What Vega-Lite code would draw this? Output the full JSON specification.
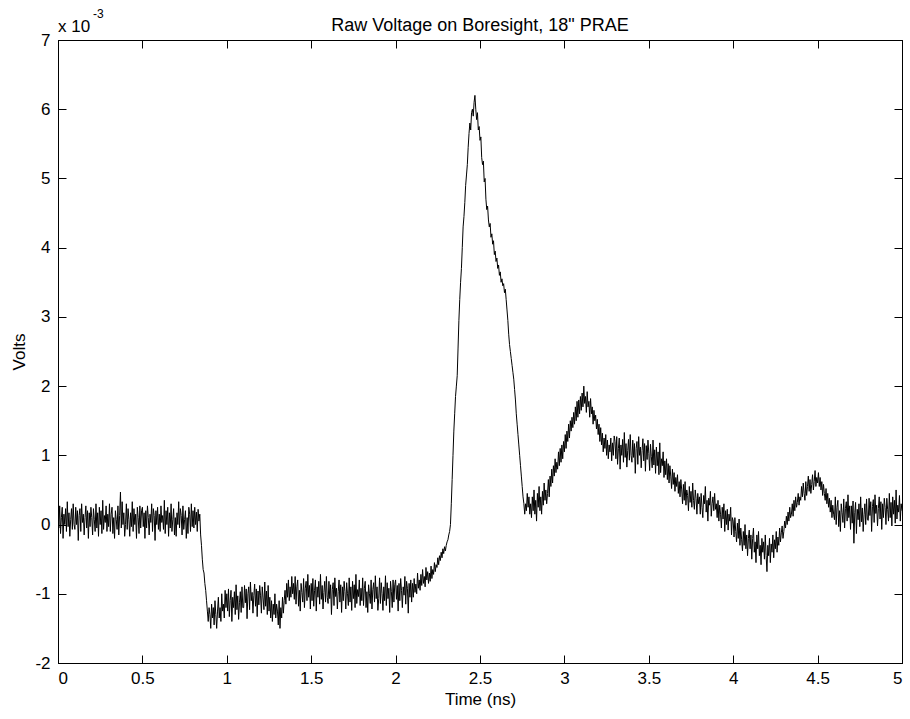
{
  "$schema": "https://vega.github.io/schema/vega-lite/v6.json",
  "width": 844,
  "height": 623,
  "autosize": {"type": "none"},
  "padding": {"left": 58, "top": 40, "right": 8, "bottom": 56},
  "background": "white",
  "title": {"text": "Raw Voltage on Boresight, 18\" PRAE", "fontSize": 18, "fontWeight": "normal", "font": "Liberation Sans", "color": "black", "offset": 0, "baseline": "alphabetic", "dy": 41, "frame": "group", "anchor": "middle"},
  "config": {
    "view": {"stroke": "black", "strokeWidth": 1},
    "axis": {"grid": false, "domainColor": "black", "tickColor": "black", "labelColor": "black", "titleColor": "black", "labelFont": "Liberation Sans", "titleFont": "Liberation Sans", "labelFontSize": 17, "titleFontSize": 17, "titleFontWeight": "normal", "tickSize": -8, "domainWidth": 1, "tickWidth": 1}
  },
  "layer": [
    {
      "data": {"values": [
{"t":0.000,"v":0.20},{"t":0.005,"v":-0.05},{"t":0.010,"v":0.27},{"t":0.015,"v":-0.13},{"t":0.020,"v":0.10},{"t":0.025,"v":0.25},{"t":0.030,"v":-0.20},{"t":0.035,"v":0.15},{"t":0.040,"v":0.00},{"t":0.045,"v":0.23},{"t":0.050,"v":-0.10},{"t":0.055,"v":0.33},{"t":0.060,"v":-0.03},{"t":0.065,"v":0.17},{"t":0.070,"v":-0.17},{"t":0.075,"v":0.07},{"t":0.080,"v":0.23},{"t":0.085,"v":-0.07},{"t":0.090,"v":0.30},{"t":0.095,"v":0.00},
{"t":0.100,"v":-0.07},{"t":0.105,"v":0.25},{"t":0.110,"v":0.00},{"t":0.115,"v":0.20},{"t":0.120,"v":-0.23},{"t":0.125,"v":0.13},{"t":0.130,"v":0.23},{"t":0.135,"v":-0.10},{"t":0.140,"v":0.30},{"t":0.145,"v":0.03},{"t":0.150,"v":0.15},{"t":0.155,"v":-0.15},{"t":0.160,"v":0.10},{"t":0.165,"v":0.27},{"t":0.170,"v":-0.05},{"t":0.175,"v":0.20},{"t":0.180,"v":-0.20},{"t":0.185,"v":0.17},{"t":0.190,"v":-0.03},{"t":0.195,"v":0.25},
{"t":0.200,"v":0.10},{"t":0.205,"v":-0.15},{"t":0.210,"v":0.23},{"t":0.215,"v":0.07},{"t":0.220,"v":-0.10},{"t":0.225,"v":0.30},{"t":0.230,"v":-0.05},{"t":0.235,"v":0.17},{"t":0.240,"v":-0.17},{"t":0.245,"v":0.25},{"t":0.250,"v":0.00},{"t":0.255,"v":0.20},{"t":0.260,"v":-0.13},{"t":0.265,"v":0.35},{"t":0.270,"v":-0.07},{"t":0.275,"v":0.13},{"t":0.280,"v":0.03},{"t":0.285,"v":0.27},{"t":0.290,"v":-0.10},{"t":0.295,"v":0.15},
{"t":0.300,"v":-0.03},{"t":0.305,"v":0.30},{"t":0.310,"v":-0.10},{"t":0.315,"v":0.15},{"t":0.320,"v":0.25},{"t":0.325,"v":-0.13},{"t":0.330,"v":0.10},{"t":0.335,"v":-0.20},{"t":0.340,"v":0.20},{"t":0.345,"v":0.07},{"t":0.350,"v":-0.07},{"t":0.355,"v":0.27},{"t":0.360,"v":-0.15},{"t":0.365,"v":0.13},{"t":0.370,"v":0.47},{"t":0.375,"v":-0.05},{"t":0.380,"v":0.33},{"t":0.385,"v":0.00},{"t":0.390,"v":0.17},{"t":0.395,"v":-0.17},
{"t":0.400,"v":0.00},{"t":0.405,"v":0.30},{"t":0.410,"v":-0.07},{"t":0.415,"v":0.23},{"t":0.420,"v":0.07},{"t":0.425,"v":-0.17},{"t":0.430,"v":0.17},{"t":0.435,"v":-0.03},{"t":0.440,"v":0.33},{"t":0.445,"v":-0.10},{"t":0.450,"v":0.23},{"t":0.455,"v":0.00},{"t":0.460,"v":0.15},{"t":0.465,"v":-0.20},{"t":0.470,"v":0.25},{"t":0.475,"v":0.10},{"t":0.480,"v":-0.13},{"t":0.485,"v":0.27},{"t":0.490,"v":-0.05},{"t":0.495,"v":0.20},
{"t":0.500,"v":0.25},{"t":0.505,"v":-0.03},{"t":0.510,"v":0.17},{"t":0.515,"v":-0.20},{"t":0.520,"v":0.20},{"t":0.525,"v":-0.05},{"t":0.530,"v":0.27},{"t":0.535,"v":0.10},{"t":0.540,"v":-0.15},{"t":0.545,"v":0.15},{"t":0.550,"v":0.03},{"t":0.555,"v":0.30},{"t":0.560,"v":-0.10},{"t":0.565,"v":0.23},{"t":0.570,"v":0.13},{"t":0.575,"v":-0.23},{"t":0.580,"v":0.20},{"t":0.585,"v":0.00},{"t":0.590,"v":0.25},{"t":0.595,"v":-0.07},
{"t":0.600,"v":0.15},{"t":0.605,"v":-0.10},{"t":0.610,"v":0.27},{"t":0.615,"v":0.03},{"t":0.620,"v":0.13},{"t":0.625,"v":-0.07},{"t":0.630,"v":0.35},{"t":0.635,"v":-0.13},{"t":0.640,"v":0.20},{"t":0.645,"v":0.00},{"t":0.650,"v":0.25},{"t":0.655,"v":-0.17},{"t":0.660,"v":0.17},{"t":0.665,"v":-0.05},{"t":0.670,"v":0.30},{"t":0.675,"v":-0.10},{"t":0.680,"v":0.07},{"t":0.685,"v":0.23},{"t":0.690,"v":-0.15},{"t":0.695,"v":0.10},
{"t":0.700,"v":-0.17},{"t":0.705,"v":0.17},{"t":0.710,"v":0.00},{"t":0.715,"v":0.33},{"t":0.720,"v":-0.05},{"t":0.725,"v":0.23},{"t":0.730,"v":0.13},{"t":0.735,"v":-0.15},{"t":0.740,"v":0.27},{"t":0.745,"v":-0.07},{"t":0.750,"v":0.07},{"t":0.755,"v":0.20},{"t":0.760,"v":-0.20},{"t":0.765,"v":0.10},{"t":0.770,"v":-0.13},{"t":0.775,"v":0.25},{"t":0.780,"v":0.15},{"t":0.785,"v":-0.10},{"t":0.790,"v":0.30},{"t":0.795,"v":-0.03},
{"t":0.800,"v":0.20},{"t":0.805,"v":-0.05},{"t":0.810,"v":0.25},{"t":0.815,"v":0.00},{"t":0.820,"v":0.18},{"t":0.825,"v":-0.10},{"t":0.830,"v":0.22},{"t":0.835,"v":0.05},{"t":0.840,"v":0.15},{"t":0.845,"v":-0.15},{"t":0.850,"v":-0.30},{"t":0.855,"v":-0.50},{"t":0.860,"v":-0.65},{"t":0.865,"v":-0.70},{"t":0.870,"v":-0.85},{"t":0.875,"v":-0.95},{"t":0.880,"v":-1.10},{"t":0.885,"v":-1.25},{"t":0.890,"v":-1.40},{"t":0.895,"v":-1.20},
{"t":0.900,"v":-1.30},{"t":0.905,"v":-1.50},{"t":0.910,"v":-1.15},{"t":0.915,"v":-1.35},{"t":0.920,"v":-1.20},{"t":0.925,"v":-1.45},{"t":0.930,"v":-1.10},{"t":0.935,"v":-1.30},{"t":0.940,"v":-1.50},{"t":0.945,"v":-1.25},{"t":0.950,"v":-1.05},{"t":0.955,"v":-1.35},{"t":0.960,"v":-1.20},{"t":0.965,"v":-1.40},{"t":0.970,"v":-1.00},{"t":0.975,"v":-1.25},{"t":0.980,"v":-1.15},{"t":0.985,"v":-1.35},{"t":0.990,"v":-0.95},{"t":0.995,"v":-1.20},
{"t":1.000,"v":-1.00},{"t":1.005,"v":-1.25},{"t":1.010,"v":-0.93},{"t":1.015,"v":-1.33},{"t":1.020,"v":-1.10},{"t":1.025,"v":-0.95},{"t":1.030,"v":-1.40},{"t":1.035,"v":-1.05},{"t":1.040,"v":-1.20},{"t":1.045,"v":-0.97},{"t":1.050,"v":-1.30},{"t":1.055,"v":-0.87},{"t":1.060,"v":-1.23},{"t":1.065,"v":-1.03},{"t":1.070,"v":-1.37},{"t":1.075,"v":-1.13},{"t":1.080,"v":-0.97},{"t":1.085,"v":-1.27},{"t":1.090,"v":-0.90},{"t":1.095,"v":-1.20},
{"t":1.100,"v":-1.20},{"t":1.105,"v":-0.88},{"t":1.110,"v":-1.13},{"t":1.115,"v":-0.93},{"t":1.120,"v":-1.36},{"t":1.125,"v":-1.00},{"t":1.130,"v":-0.90},{"t":1.135,"v":-1.23},{"t":1.140,"v":-0.83},{"t":1.145,"v":-1.10},{"t":1.150,"v":-0.98},{"t":1.155,"v":-1.28},{"t":1.160,"v":-1.03},{"t":1.165,"v":-0.86},{"t":1.170,"v":-1.18},{"t":1.175,"v":-0.93},{"t":1.180,"v":-1.33},{"t":1.185,"v":-0.96},{"t":1.190,"v":-1.16},{"t":1.195,"v":-0.88},
{"t":1.200,"v":-1.03},{"t":1.205,"v":-1.28},{"t":1.210,"v":-0.90},{"t":1.215,"v":-1.06},{"t":1.220,"v":-1.23},{"t":1.225,"v":-0.83},{"t":1.230,"v":-1.18},{"t":1.235,"v":-0.96},{"t":1.240,"v":-1.30},{"t":1.245,"v":-0.88},{"t":1.250,"v":-1.25},{"t":1.255,"v":-1.05},{"t":1.260,"v":-1.35},{"t":1.265,"v":-1.10},{"t":1.270,"v":-1.40},{"t":1.275,"v":-1.15},{"t":1.280,"v":-1.30},{"t":1.285,"v":-1.00},{"t":1.290,"v":-1.35},{"t":1.295,"v":-1.15},
{"t":1.300,"v":-1.25},{"t":1.305,"v":-1.45},{"t":1.310,"v":-1.10},{"t":1.315,"v":-1.50},{"t":1.320,"v":-1.20},{"t":1.325,"v":-1.35},{"t":1.330,"v":-1.05},{"t":1.335,"v":-1.28},{"t":1.340,"v":-1.10},{"t":1.345,"v":-0.95},{"t":1.350,"v":-1.15},{"t":1.355,"v":-0.85},{"t":1.360,"v":-1.05},{"t":1.365,"v":-0.80},{"t":1.370,"v":-1.10},{"t":1.375,"v":-0.90},{"t":1.380,"v":-1.05},{"t":1.385,"v":-0.75},{"t":1.390,"v":-1.00},{"t":1.395,"v":-0.85},
{"t":1.400,"v":-1.08},{"t":1.405,"v":-0.75},{"t":1.410,"v":-1.15},{"t":1.415,"v":-0.90},{"t":1.420,"v":-0.80},{"t":1.425,"v":-1.18},{"t":1.430,"v":-0.95},{"t":1.435,"v":-1.25},{"t":1.440,"v":-0.85},{"t":1.445,"v":-0.98},{"t":1.450,"v":-1.12},{"t":1.455,"v":-0.78},{"t":1.460,"v":-1.20},{"t":1.465,"v":-0.92},{"t":1.470,"v":-0.82},{"t":1.475,"v":-1.10},{"t":1.480,"v":-0.72},{"t":1.485,"v":-1.05},{"t":1.490,"v":-0.88},{"t":1.495,"v":-1.22},
{"t":1.500,"v":-0.85},{"t":1.505,"v":-1.10},{"t":1.510,"v":-0.78},{"t":1.515,"v":-1.18},{"t":1.520,"v":-0.95},{"t":1.525,"v":-0.80},{"t":1.530,"v":-1.25},{"t":1.535,"v":-0.90},{"t":1.540,"v":-1.05},{"t":1.545,"v":-0.82},{"t":1.550,"v":-1.15},{"t":1.555,"v":-0.72},{"t":1.560,"v":-1.08},{"t":1.565,"v":-0.88},{"t":1.570,"v":-1.22},{"t":1.575,"v":-0.98},{"t":1.580,"v":-0.82},{"t":1.585,"v":-1.12},{"t":1.590,"v":-0.75},{"t":1.595,"v":-1.05},
{"t":1.600,"v":-1.14},{"t":1.605,"v":-0.82},{"t":1.610,"v":-1.07},{"t":1.615,"v":-0.87},{"t":1.620,"v":-1.30},{"t":1.625,"v":-0.94},{"t":1.630,"v":-0.84},{"t":1.635,"v":-1.17},{"t":1.640,"v":-0.77},{"t":1.645,"v":-1.04},{"t":1.650,"v":-0.92},{"t":1.655,"v":-1.22},{"t":1.660,"v":-0.97},{"t":1.665,"v":-0.80},{"t":1.670,"v":-1.12},{"t":1.675,"v":-0.87},{"t":1.680,"v":-1.27},{"t":1.685,"v":-0.90},{"t":1.690,"v":-1.10},{"t":1.695,"v":-0.82},
{"t":1.700,"v":-0.97},{"t":1.705,"v":-1.22},{"t":1.710,"v":-0.84},{"t":1.715,"v":-1.00},{"t":1.720,"v":-1.17},{"t":1.725,"v":-0.77},{"t":1.730,"v":-1.12},{"t":1.735,"v":-0.90},{"t":1.740,"v":-1.24},{"t":1.745,"v":-0.82},{"t":1.750,"v":-1.07},{"t":1.755,"v":-0.87},{"t":1.760,"v":-1.20},{"t":1.765,"v":-0.72},{"t":1.770,"v":-1.14},{"t":1.775,"v":-0.94},{"t":1.780,"v":-1.04},{"t":1.785,"v":-0.80},{"t":1.790,"v":-1.17},{"t":1.795,"v":-0.92},
{"t":1.800,"v":-1.10},{"t":1.805,"v":-0.77},{"t":1.810,"v":-1.17},{"t":1.815,"v":-0.92},{"t":1.820,"v":-0.82},{"t":1.825,"v":-1.20},{"t":1.830,"v":-0.97},{"t":1.835,"v":-1.27},{"t":1.840,"v":-0.87},{"t":1.845,"v":-1.00},{"t":1.850,"v":-1.14},{"t":1.855,"v":-0.80},{"t":1.860,"v":-1.22},{"t":1.865,"v":-0.94},{"t":1.870,"v":-0.84},{"t":1.875,"v":-1.12},{"t":1.880,"v":-0.74},{"t":1.885,"v":-1.07},{"t":1.890,"v":-0.90},{"t":1.895,"v":-1.24},
{"t":1.900,"v":-1.07},{"t":1.905,"v":-0.77},{"t":1.910,"v":-1.14},{"t":1.915,"v":-0.84},{"t":1.920,"v":-1.00},{"t":1.925,"v":-1.24},{"t":1.930,"v":-0.90},{"t":1.935,"v":-1.10},{"t":1.940,"v":-0.74},{"t":1.945,"v":-1.17},{"t":1.950,"v":-0.84},{"t":1.955,"v":-1.07},{"t":1.960,"v":-0.92},{"t":1.965,"v":-1.27},{"t":1.970,"v":-0.82},{"t":1.975,"v":-0.97},{"t":1.980,"v":-1.20},{"t":1.985,"v":-0.80},{"t":1.990,"v":-1.12},{"t":1.995,"v":-0.87},
{"t":2.000,"v":-0.80},{"t":2.005,"v":-1.08},{"t":2.010,"v":-0.88},{"t":2.015,"v":-1.25},{"t":2.020,"v":-0.85},{"t":2.025,"v":-1.10},{"t":2.030,"v":-0.78},{"t":2.035,"v":-0.95},{"t":2.040,"v":-1.20},{"t":2.045,"v":-0.90},{"t":2.050,"v":-1.02},{"t":2.055,"v":-0.75},{"t":2.060,"v":-1.15},{"t":2.065,"v":-0.82},{"t":2.070,"v":-0.92},{"t":2.075,"v":-1.28},{"t":2.080,"v":-0.85},{"t":2.085,"v":-1.05},{"t":2.090,"v":-0.80},{"t":2.095,"v":-1.12},
{"t":2.100,"v":-0.85},{"t":2.105,"v":-1.05},{"t":2.110,"v":-0.78},{"t":2.115,"v":-0.98},{"t":2.120,"v":-0.86},{"t":2.125,"v":-1.00},{"t":2.130,"v":-0.70},{"t":2.135,"v":-0.92},{"t":2.140,"v":-0.80},{"t":2.145,"v":-0.95},{"t":2.150,"v":-0.72},{"t":2.155,"v":-0.88},{"t":2.160,"v":-0.65},{"t":2.165,"v":-0.85},{"t":2.170,"v":-0.75},{"t":2.175,"v":-0.90},{"t":2.180,"v":-0.62},{"t":2.185,"v":-0.80},{"t":2.190,"v":-0.68},{"t":2.195,"v":-0.85},
{"t":2.200,"v":-0.70},{"t":2.205,"v":-0.82},{"t":2.210,"v":-0.60},{"t":2.215,"v":-0.78},{"t":2.220,"v":-0.65},{"t":2.225,"v":-0.72},{"t":2.230,"v":-0.55},{"t":2.235,"v":-0.68},{"t":2.240,"v":-0.58},{"t":2.245,"v":-0.62},{"t":2.250,"v":-0.48},{"t":2.255,"v":-0.58},{"t":2.260,"v":-0.45},{"t":2.265,"v":-0.52},{"t":2.270,"v":-0.40},{"t":2.275,"v":-0.48},{"t":2.280,"v":-0.35},{"t":2.285,"v":-0.42},{"t":2.290,"v":-0.32},{"t":2.295,"v":-0.38},
{"t":2.300,"v":-0.30},{"t":2.305,"v":-0.25},{"t":2.310,"v":-0.22},{"t":2.315,"v":-0.15},{"t":2.320,"v":-0.10},{"t":2.325,"v":0.00},{"t":2.330,"v":0.30},{"t":2.335,"v":0.65},{"t":2.340,"v":1.00},{"t":2.345,"v":1.35},{"t":2.350,"v":1.60},{"t":2.355,"v":1.85},{"t":2.360,"v":2.00},{"t":2.365,"v":2.15},{"t":2.370,"v":2.55},{"t":2.375,"v":2.95},{"t":2.380,"v":3.25},{"t":2.385,"v":3.50},{"t":2.390,"v":3.70},{"t":2.395,"v":4.00},
{"t":2.400,"v":4.30},{"t":2.405,"v":4.45},{"t":2.410,"v":4.65},{"t":2.415,"v":4.90},{"t":2.420,"v":5.05},{"t":2.425,"v":5.20},{"t":2.430,"v":5.45},{"t":2.435,"v":5.65},{"t":2.440,"v":5.80},{"t":2.445,"v":5.70},{"t":2.450,"v":5.95},{"t":2.455,"v":6.00},{"t":2.460,"v":5.90},{"t":2.465,"v":6.10},{"t":2.470,"v":6.20},{"t":2.475,"v":6.00},{"t":2.480,"v":5.85},{"t":2.485,"v":5.95},{"t":2.490,"v":5.70},{"t":2.495,"v":5.75},
{"t":2.500,"v":5.55},{"t":2.505,"v":5.60},{"t":2.510,"v":5.30},{"t":2.515,"v":5.20},{"t":2.520,"v":5.25},{"t":2.525,"v":4.95},{"t":2.530,"v":5.00},{"t":2.535,"v":4.70},{"t":2.540,"v":4.55},{"t":2.545,"v":4.60},{"t":2.550,"v":4.40},{"t":2.555,"v":4.30},{"t":2.560,"v":4.35},{"t":2.565,"v":4.15},{"t":2.570,"v":4.20},{"t":2.575,"v":4.05},{"t":2.580,"v":4.10},{"t":2.585,"v":3.90},{"t":2.590,"v":3.95},{"t":2.595,"v":3.80},
{"t":2.600,"v":3.85},{"t":2.605,"v":3.70},{"t":2.610,"v":3.75},{"t":2.615,"v":3.60},{"t":2.620,"v":3.65},{"t":2.625,"v":3.50},{"t":2.630,"v":3.55},{"t":2.635,"v":3.45},{"t":2.640,"v":3.48},{"t":2.645,"v":3.35},{"t":2.650,"v":3.40},{"t":2.655,"v":3.25},{"t":2.660,"v":3.10},{"t":2.665,"v":2.95},{"t":2.670,"v":2.75},{"t":2.675,"v":2.60},{"t":2.680,"v":2.50},{"t":2.685,"v":2.40},{"t":2.690,"v":2.30},{"t":2.695,"v":2.20},
{"t":2.700,"v":2.10},{"t":2.705,"v":1.95},{"t":2.710,"v":1.80},{"t":2.715,"v":1.60},{"t":2.720,"v":1.45},{"t":2.725,"v":1.30},{"t":2.730,"v":1.15},{"t":2.735,"v":1.00},{"t":2.740,"v":0.85},{"t":2.745,"v":0.70},{"t":2.750,"v":0.55},{"t":2.755,"v":0.40},{"t":2.760,"v":0.30},{"t":2.765,"v":0.15},{"t":2.770,"v":0.30},{"t":2.775,"v":0.20},{"t":2.780,"v":0.45},{"t":2.785,"v":0.25},{"t":2.790,"v":0.40},{"t":2.795,"v":0.15},
{"t":2.800,"v":0.30},{"t":2.805,"v":0.10},{"t":2.810,"v":0.40},{"t":2.815,"v":0.20},{"t":2.820,"v":0.50},{"t":2.825,"v":0.15},{"t":2.830,"v":0.35},{"t":2.835,"v":0.05},{"t":2.840,"v":0.45},{"t":2.845,"v":0.25},{"t":2.850,"v":0.55},{"t":2.855,"v":0.20},{"t":2.860,"v":0.40},{"t":2.865,"v":0.15},{"t":2.870,"v":0.48},{"t":2.875,"v":0.28},{"t":2.880,"v":0.60},{"t":2.885,"v":0.35},{"t":2.890,"v":0.50},{"t":2.895,"v":0.30},
{"t":2.900,"v":0.45},{"t":2.905,"v":0.65},{"t":2.910,"v":0.40},{"t":2.915,"v":0.70},{"t":2.920,"v":0.55},{"t":2.925,"v":0.80},{"t":2.930,"v":0.60},{"t":2.935,"v":0.85},{"t":2.940,"v":0.70},{"t":2.945,"v":0.95},{"t":2.950,"v":0.75},{"t":2.955,"v":0.90},{"t":2.960,"v":0.80},{"t":2.965,"v":1.05},{"t":2.970,"v":0.85},{"t":2.975,"v":1.10},{"t":2.980,"v":0.90},{"t":2.985,"v":1.15},{"t":2.990,"v":0.95},{"t":2.995,"v":1.20},
{"t":3.000,"v":1.05},{"t":3.005,"v":1.30},{"t":3.010,"v":1.10},{"t":3.015,"v":1.35},{"t":3.020,"v":1.20},{"t":3.025,"v":1.45},{"t":3.030,"v":1.25},{"t":3.035,"v":1.50},{"t":3.040,"v":1.35},{"t":3.045,"v":1.55},{"t":3.050,"v":1.40},{"t":3.055,"v":1.62},{"t":3.060,"v":1.45},{"t":3.065,"v":1.70},{"t":3.070,"v":1.50},{"t":3.075,"v":1.78},{"t":3.080,"v":1.55},{"t":3.085,"v":1.80},{"t":3.090,"v":1.60},{"t":3.095,"v":1.85},
{"t":3.100,"v":1.65},{"t":3.105,"v":1.90},{"t":3.110,"v":1.70},{"t":3.115,"v":2.00},{"t":3.120,"v":1.75},{"t":3.125,"v":1.85},{"t":3.130,"v":1.62},{"t":3.135,"v":1.92},{"t":3.140,"v":1.70},{"t":3.145,"v":1.78},{"t":3.150,"v":1.55},{"t":3.155,"v":1.82},{"t":3.160,"v":1.60},{"t":3.165,"v":1.70},{"t":3.170,"v":1.45},{"t":3.175,"v":1.65},{"t":3.180,"v":1.50},{"t":3.185,"v":1.58},{"t":3.190,"v":1.38},{"t":3.195,"v":1.52},
{"t":3.200,"v":1.30},{"t":3.205,"v":1.45},{"t":3.210,"v":1.20},{"t":3.215,"v":1.40},{"t":3.220,"v":1.15},{"t":3.225,"v":1.32},{"t":3.230,"v":1.05},{"t":3.235,"v":1.25},{"t":3.240,"v":1.10},{"t":3.245,"v":1.30},{"t":3.250,"v":1.00},{"t":3.255,"v":1.22},{"t":3.260,"v":0.95},{"t":3.265,"v":1.15},{"t":3.270,"v":1.05},{"t":3.275,"v":1.25},{"t":3.280,"v":0.92},{"t":3.285,"v":1.18},{"t":3.290,"v":1.00},{"t":3.295,"v":1.28},
{"t":3.300,"v":1.20},{"t":3.305,"v":0.95},{"t":3.310,"v":1.27},{"t":3.315,"v":0.87},{"t":3.320,"v":1.10},{"t":3.325,"v":1.25},{"t":3.330,"v":0.80},{"t":3.335,"v":1.15},{"t":3.340,"v":1.00},{"t":3.345,"v":1.23},{"t":3.350,"v":0.90},{"t":3.355,"v":1.33},{"t":3.360,"v":0.97},{"t":3.365,"v":1.17},{"t":3.370,"v":0.83},{"t":3.375,"v":1.07},{"t":3.380,"v":1.23},{"t":3.385,"v":0.93},{"t":3.390,"v":1.30},{"t":3.395,"v":1.00},
{"t":3.400,"v":0.90},{"t":3.405,"v":1.22},{"t":3.410,"v":0.97},{"t":3.415,"v":1.17},{"t":3.420,"v":0.74},{"t":3.425,"v":1.10},{"t":3.430,"v":1.20},{"t":3.435,"v":0.87},{"t":3.440,"v":1.27},{"t":3.445,"v":1.00},{"t":3.450,"v":1.12},{"t":3.455,"v":0.82},{"t":3.460,"v":1.07},{"t":3.465,"v":1.24},{"t":3.470,"v":0.92},{"t":3.475,"v":1.17},{"t":3.480,"v":0.77},{"t":3.485,"v":1.14},{"t":3.490,"v":0.94},{"t":3.495,"v":1.22},
{"t":3.500,"v":1.03},{"t":3.505,"v":0.78},{"t":3.510,"v":1.16},{"t":3.515,"v":0.98},{"t":3.520,"v":0.82},{"t":3.525,"v":1.22},{"t":3.530,"v":0.86},{"t":3.535,"v":1.08},{"t":3.540,"v":0.74},{"t":3.545,"v":1.12},{"t":3.550,"v":0.85},{"t":3.555,"v":1.05},{"t":3.560,"v":0.72},{"t":3.565,"v":1.18},{"t":3.570,"v":0.75},{"t":3.575,"v":0.95},{"t":3.580,"v":0.85},{"t":3.585,"v":1.05},{"t":3.590,"v":0.68},{"t":3.595,"v":0.92},
{"t":3.600,"v":0.72},{"t":3.605,"v":0.95},{"t":3.610,"v":0.65},{"t":3.615,"v":0.88},{"t":3.620,"v":0.60},{"t":3.625,"v":0.85},{"t":3.630,"v":0.70},{"t":3.635,"v":0.52},{"t":3.640,"v":0.80},{"t":3.645,"v":0.58},{"t":3.650,"v":0.75},{"t":3.655,"v":0.48},{"t":3.660,"v":0.68},{"t":3.665,"v":0.55},{"t":3.670,"v":0.72},{"t":3.675,"v":0.45},{"t":3.680,"v":0.62},{"t":3.685,"v":0.40},{"t":3.690,"v":0.65},{"t":3.695,"v":0.50},
{"t":3.700,"v":0.30},{"t":3.705,"v":0.58},{"t":3.710,"v":0.35},{"t":3.715,"v":0.62},{"t":3.720,"v":0.28},{"t":3.725,"v":0.50},{"t":3.730,"v":0.42},{"t":3.735,"v":0.20},{"t":3.740,"v":0.55},{"t":3.745,"v":0.32},{"t":3.750,"v":0.48},{"t":3.755,"v":0.25},{"t":3.760,"v":0.60},{"t":3.765,"v":0.35},{"t":3.770,"v":0.22},{"t":3.775,"v":0.50},{"t":3.780,"v":0.38},{"t":3.785,"v":0.15},{"t":3.790,"v":0.45},{"t":3.795,"v":0.30},
{"t":3.800,"v":0.40},{"t":3.805,"v":0.15},{"t":3.810,"v":0.45},{"t":3.815,"v":0.25},{"t":3.820,"v":0.10},{"t":3.825,"v":0.42},{"t":3.830,"v":0.30},{"t":3.835,"v":0.55},{"t":3.840,"v":0.18},{"t":3.845,"v":0.35},{"t":3.850,"v":0.05},{"t":3.855,"v":0.38},{"t":3.860,"v":0.28},{"t":3.865,"v":0.48},{"t":3.870,"v":0.12},{"t":3.875,"v":0.30},{"t":3.880,"v":0.40},{"t":3.885,"v":0.20},{"t":3.890,"v":0.45},{"t":3.895,"v":0.22},
{"t":3.900,"v":0.30},{"t":3.905,"v":0.10},{"t":3.910,"v":0.35},{"t":3.915,"v":0.05},{"t":3.920,"v":0.28},{"t":3.925,"v":0.15},{"t":3.930,"v":-0.05},{"t":3.935,"v":0.25},{"t":3.940,"v":0.08},{"t":3.945,"v":0.30},{"t":3.950,"v":-0.10},{"t":3.955,"v":0.20},{"t":3.960,"v":0.00},{"t":3.965,"v":0.22},{"t":3.970,"v":-0.08},{"t":3.975,"v":0.15},{"t":3.980,"v":0.05},{"t":3.985,"v":0.25},{"t":3.990,"v":-0.15},{"t":3.995,"v":0.10},
{"t":4.000,"v":0.05},{"t":4.005,"v":-0.18},{"t":4.010,"v":0.10},{"t":4.015,"v":-0.10},{"t":4.020,"v":-0.25},{"t":4.025,"v":0.02},{"t":4.030,"v":-0.20},{"t":4.035,"v":0.08},{"t":4.040,"v":-0.30},{"t":4.045,"v":-0.05},{"t":4.050,"v":-0.22},{"t":4.055,"v":-0.38},{"t":4.060,"v":-0.10},{"t":4.065,"v":-0.30},{"t":4.070,"v":0.00},{"t":4.075,"v":-0.35},{"t":4.080,"v":-0.15},{"t":4.085,"v":-0.45},{"t":4.090,"v":-0.20},{"t":4.095,"v":-0.08},
{"t":4.100,"v":-0.35},{"t":4.105,"v":-0.15},{"t":4.110,"v":-0.50},{"t":4.115,"v":-0.20},{"t":4.120,"v":-0.05},{"t":4.125,"v":-0.40},{"t":4.130,"v":-0.25},{"t":4.135,"v":-0.55},{"t":4.140,"v":-0.15},{"t":4.145,"v":-0.35},{"t":4.150,"v":-0.10},{"t":4.155,"v":-0.45},{"t":4.160,"v":-0.30},{"t":4.165,"v":-0.58},{"t":4.170,"v":-0.20},{"t":4.175,"v":-0.40},{"t":4.180,"v":-0.25},{"t":4.185,"v":-0.50},{"t":4.190,"v":-0.15},{"t":4.195,"v":-0.45},
{"t":4.200,"v":-0.68},{"t":4.205,"v":-0.30},{"t":4.210,"v":-0.45},{"t":4.215,"v":-0.20},{"t":4.220,"v":-0.55},{"t":4.225,"v":-0.28},{"t":4.230,"v":-0.40},{"t":4.235,"v":-0.15},{"t":4.240,"v":-0.48},{"t":4.245,"v":-0.22},{"t":4.250,"v":-0.35},{"t":4.255,"v":-0.10},{"t":4.260,"v":-0.40},{"t":4.265,"v":-0.18},{"t":4.270,"v":-0.30},{"t":4.275,"v":-0.05},{"t":4.280,"v":-0.25},{"t":4.285,"v":-0.12},{"t":4.290,"v":-0.02},{"t":4.295,"v":-0.20},
{"t":4.300,"v":-0.10},{"t":4.305,"v":0.05},{"t":4.310,"v":-0.05},{"t":4.315,"v":0.12},{"t":4.320,"v":0.00},{"t":4.325,"v":0.18},{"t":4.330,"v":0.05},{"t":4.335,"v":0.25},{"t":4.340,"v":0.10},{"t":4.345,"v":0.15},{"t":4.350,"v":0.30},{"t":4.355,"v":0.12},{"t":4.360,"v":0.35},{"t":4.365,"v":0.20},{"t":4.370,"v":0.40},{"t":4.375,"v":0.25},{"t":4.380,"v":0.32},{"t":4.385,"v":0.45},{"t":4.390,"v":0.28},{"t":4.395,"v":0.40},
{"t":4.400,"v":0.35},{"t":4.405,"v":0.55},{"t":4.410,"v":0.40},{"t":4.415,"v":0.60},{"t":4.420,"v":0.45},{"t":4.425,"v":0.35},{"t":4.430,"v":0.62},{"t":4.435,"v":0.42},{"t":4.440,"v":0.55},{"t":4.445,"v":0.70},{"t":4.450,"v":0.48},{"t":4.455,"v":0.65},{"t":4.460,"v":0.45},{"t":4.465,"v":0.58},{"t":4.470,"v":0.72},{"t":4.475,"v":0.50},{"t":4.480,"v":0.62},{"t":4.485,"v":0.78},{"t":4.490,"v":0.55},{"t":4.495,"v":0.68},
{"t":4.500,"v":0.60},{"t":4.505,"v":0.75},{"t":4.510,"v":0.55},{"t":4.515,"v":0.68},{"t":4.520,"v":0.50},{"t":4.525,"v":0.62},{"t":4.530,"v":0.42},{"t":4.535,"v":0.58},{"t":4.540,"v":0.45},{"t":4.545,"v":0.35},{"t":4.550,"v":0.52},{"t":4.555,"v":0.30},{"t":4.560,"v":0.45},{"t":4.565,"v":0.25},{"t":4.570,"v":0.38},{"t":4.575,"v":0.18},{"t":4.580,"v":0.35},{"t":4.585,"v":0.10},{"t":4.590,"v":0.28},{"t":4.595,"v":0.15},
{"t":4.600,"v":0.07},{"t":4.605,"v":0.40},{"t":4.610,"v":0.00},{"t":4.615,"v":0.25},{"t":4.620,"v":0.35},{"t":4.625,"v":-0.03},{"t":4.630,"v":0.20},{"t":4.635,"v":-0.10},{"t":4.640,"v":0.30},{"t":4.645,"v":0.17},{"t":4.650,"v":0.03},{"t":4.655,"v":0.37},{"t":4.660,"v":-0.05},{"t":4.665,"v":0.23},{"t":4.670,"v":0.33},{"t":4.675,"v":0.05},{"t":4.680,"v":0.43},{"t":4.685,"v":0.10},{"t":4.690,"v":0.27},{"t":4.695,"v":-0.07},
{"t":4.700,"v":0.27},{"t":4.705,"v":0.02},{"t":4.710,"v":0.34},{"t":4.715,"v":-0.27},{"t":4.720,"v":0.17},{"t":4.725,"v":0.32},{"t":4.730,"v":-0.13},{"t":4.735,"v":0.22},{"t":4.740,"v":0.07},{"t":4.745,"v":0.30},{"t":4.750,"v":-0.03},{"t":4.755,"v":0.40},{"t":4.760,"v":0.04},{"t":4.765,"v":0.24},{"t":4.770,"v":-0.10},{"t":4.775,"v":0.14},{"t":4.780,"v":0.30},{"t":4.785,"v":0.00},{"t":4.790,"v":0.37},{"t":4.795,"v":0.07},
{"t":4.800,"v":0.06},{"t":4.805,"v":0.38},{"t":4.810,"v":0.13},{"t":4.815,"v":0.33},{"t":4.820,"v":-0.10},{"t":4.825,"v":0.26},{"t":4.830,"v":0.36},{"t":4.835,"v":0.03},{"t":4.840,"v":0.43},{"t":4.845,"v":0.16},{"t":4.850,"v":0.28},{"t":4.855,"v":-0.02},{"t":4.860,"v":0.23},{"t":4.865,"v":0.40},{"t":4.870,"v":0.08},{"t":4.875,"v":0.33},{"t":4.880,"v":-0.07},{"t":4.885,"v":0.30},{"t":4.890,"v":0.10},{"t":4.895,"v":0.38},
{"t":4.900,"v":0.25},{"t":4.905,"v":0.00},{"t":4.910,"v":0.38},{"t":4.915,"v":0.22},{"t":4.920,"v":0.05},{"t":4.925,"v":0.45},{"t":4.930,"v":0.10},{"t":4.935,"v":0.32},{"t":4.940,"v":-0.02},{"t":4.945,"v":0.40},{"t":4.950,"v":0.15},{"t":4.955,"v":0.35},{"t":4.960,"v":0.02},{"t":4.965,"v":0.50},{"t":4.970,"v":0.08},{"t":4.975,"v":0.28},{"t":4.980,"v":0.18},{"t":4.985,"v":0.42},{"t":4.990,"v":0.05},{"t":4.995,"v":0.30},
{"t":5.000,"v":0.20}
      ]},
      "mark": {"type": "line", "color": "black", "strokeWidth": 1, "clip": true},
      "encoding": {
        "x": {"field": "t", "type": "quantitative", "scale": {"domain": [0, 5], "nice": false, "zero": false},
              "axis": {"orient": "bottom", "title": "Time (ns)", "values": [0,0.5,1,1.5,2,2.5,3,3.5,4,4.5,5], "labelExpr": "'' + datum.value", "labelPadding": 15, "titlePadding": 5}},
        "y": {"field": "v", "type": "quantitative", "scale": {"domain": [-2, 7], "nice": false, "zero": false},
              "axis": {"orient": "left", "title": "Volts", "values": [-2,-1,0,1,2,3,4,5,6,7], "labelExpr": "'' + datum.value", "labelPadding": 16, "titlePadding": 6}}
      }
    },
    {
      "data": {"values": [{"t": 0, "v": 7, "label": "x 10"}]},
      "mark": {"type": "text", "align": "left", "baseline": "alphabetic", "fontSize": 17, "font": "Liberation Sans", "color": "black", "dy": -8},
      "encoding": {
        "x": {"field": "t", "type": "quantitative", "axis": {"orient": "top", "labels": false, "title": null, "values": [0,0.5,1,1.5,2,2.5,3,3.5,4,4.5,5]}},
        "y": {"field": "v", "type": "quantitative", "axis": {"orient": "right", "labels": false, "title": null, "values": [-2,-1,0,1,2,3,4,5,6,7]}},
        "text": {"field": "label"}
      }
    },
    {
      "data": {"values": [{"t": 0, "v": 7, "label": "-3"}]},
      "mark": {"type": "text", "align": "left", "baseline": "alphabetic", "fontSize": 12, "font": "Liberation Sans", "color": "black", "dx": 35, "dy": -22},
      "encoding": {
        "x": {"field": "t", "type": "quantitative", "axis": null},
        "y": {"field": "v", "type": "quantitative", "axis": null},
        "text": {"field": "label"}
      }
    }
  ],
  "resolve": {"axis": {"x": "independent", "y": "independent"}}
}
